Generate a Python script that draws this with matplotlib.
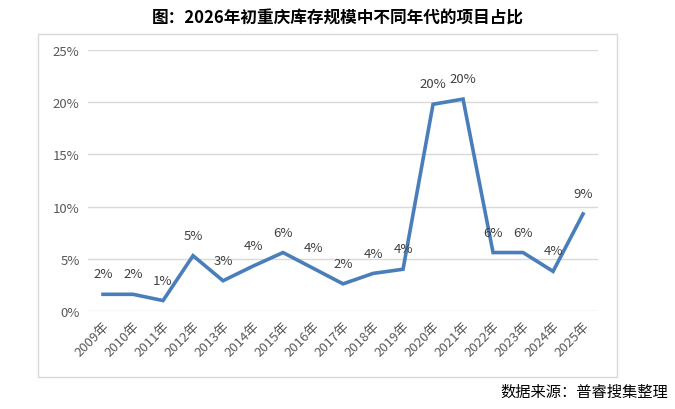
import matplotlib.pyplot as plt
import matplotlib.patches as mpatches
import numpy as np

plt.rcParams['font.family'] = ['Noto Sans CJK SC', 'DejaVu Sans']

# data
years = ['2009年', '2010年', '2011年', '2012年', '2013年', '2014年', '2015年', '2016年', '2017年',
         '2018年', '2019年', '2020年', '2021年', '2022年', '2023年', '2024年', '2025年']
shares = [1.6, 1.6, 1.0, 5.3, 2.9, 4.3, 5.6, 4.1, 2.6, 3.6, 4.0, 19.8, 20.3, 5.6, 5.6, 3.8, 9.3]
labels = ['2%', '2%', '1%', '5%', '3%', '4%', '6%', '4%', '2%', '4%', '4%', '20%', '20%', '6%', '6%', '4%', '9%']
yticks = [0, 5, 10, 15, 20, 25]

fig = plt.figure(figsize=(6.75, 4.1), dpi=100)
ax = fig.add_axes([0.1304, 0.239, 0.7556, 0.6366])

# chart border
fig.patches.append(mpatches.Rectangle((0.0563, 0.078), 0.858, 0.8366, transform=fig.transFigure,
                                      fill=False, edgecolor='#D9D9D9', linewidth=1))

x = np.arange(len(years))
ax.plot(x, shares, color='#4A7EBB', linewidth=2.6, solid_joinstyle='miter')
for xi, yi, lb in zip(x, shares, labels):
    ax.annotate(lb, (xi, yi), xytext=(0, 10), textcoords='offset points', ha='center', va='bottom',
                fontsize=9.5, color='#404040')

ax.set_xlim(-0.5, len(years) - 0.5)
ax.set_ylim(0, 25)
ax.set_yticks(yticks)
ax.set_yticklabels([f'{v}%' for v in yticks], fontsize=9.5, color='#595959')
ax.set_xticks(x)
ax.set_xticklabels(years, rotation=45, ha='right', rotation_mode='anchor', fontsize=9.5, color='#595959')
ax.tick_params(length=0, pad=6)
ax.grid(axis='y', color='#D9D9D9', linewidth=1)
ax.set_axisbelow(True)
for s in ax.spines.values():
    s.set_visible(False)

fig.text(0.5, 0.955, '图：2026年初重庆库存规模中不同年代的项目占比', ha='center', va='center',
         fontsize=12, fontweight='bold', color='black')
fig.text(0.99, 0.043, '数据来源：普睿搜集整理', ha='right', va='center', fontsize=11, color='black')

fig.savefig('out.png', dpi=100)
